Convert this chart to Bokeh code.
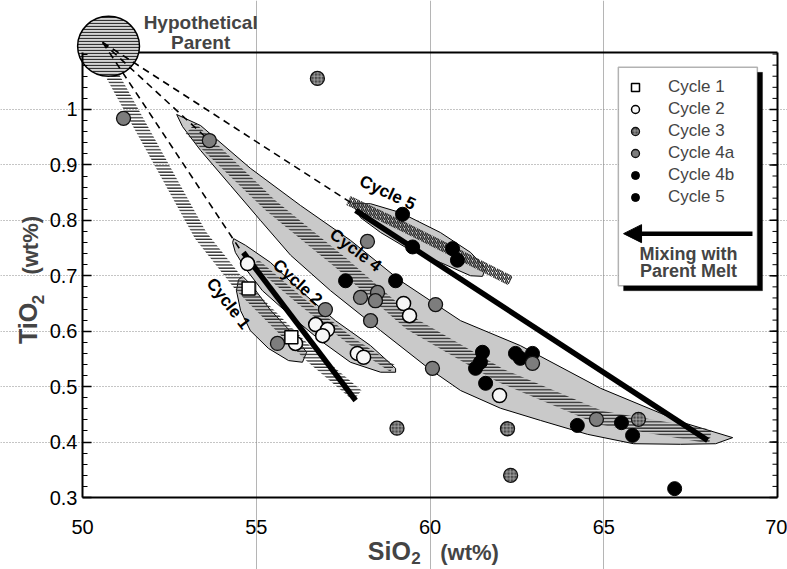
import numpy as np
from bokeh.plotting import figure
from bokeh.models import (FixedTicker, Label, BoxAnnotation, Arrow,
                          NormalHead, Legend, LegendItem, Range1d)
from bokeh.embed import file_html
from bokeh.resources import INLINE

# ------------------------------------------------------------------ data
cycle1_sio2 = [54.78, 56.01]
cycle1_tio2 = [0.677, 0.589]
cycle2_sio2 = [54.75, 56.71, 57.05, 56.91, 56.13, 57.91, 58.09, 59.24, 59.41, 62.00]
cycle2_tio2 = [0.722, 0.612, 0.603, 0.592, 0.578, 0.560, 0.553, 0.650, 0.628, 0.484]
cycle3_sio2 = [56.76, 59.05, 62.23, 62.32, 66.00]
cycle3_tio2 = [1.056, 0.425, 0.424, 0.340, 0.441]
cycle4a_sio2 = [51.18, 53.65, 55.61, 56.99, 58.20, 58.00, 58.49, 58.43, 58.29, 60.16, 60.07, 62.95, 64.79]
cycle4a_tio2 = [0.984, 0.944, 0.578, 0.639, 0.762, 0.661, 0.670, 0.655, 0.619, 0.648, 0.533, 0.542, 0.441]
cycle4b_sio2 = [57.57, 59.01, 61.51, 61.45, 61.31, 61.60, 62.46, 62.60, 62.95, 64.24, 65.51, 65.83, 67.04]
cycle4b_tio2 = [0.691, 0.691, 0.562, 0.544, 0.533, 0.506, 0.560, 0.551, 0.560, 0.430, 0.435, 0.412, 0.316]
cycle5_sio2 = [59.21, 59.50, 60.65, 60.79]
cycle5_tio2 = [0.811, 0.752, 0.749, 0.728]

legend_labels = ["Cycle 1", "Cycle 2", "Cycle 3", "Cycle 4a", "Cycle 4b", "Cycle 5"]

# hypothetical parent melt
parent_sio2 = 50.75
parent_tio2 = 1.114
parent_sio2_spread = 1.78
parent_tio2_spread = 0.108
mix_origin_sio2 = 50.58
mix_origin_tio2 = 1.121

# compositional envelopes
env1_sio2 = [54.61, 54.89, 55.41, 56.04, 56.45, 56.33, 55.93, 55.35, 54.83, 54.55, 54.43, 54.49]
env1_tio2 = [0.699, 0.681, 0.638, 0.596, 0.562, 0.544, 0.547, 0.569, 0.601, 0.637, 0.673, 0.693]
env2_sio2 = [54.35, 54.69, 55.41, 56.27, 57.28, 58.29, 59.01, 59.01, 58.58, 57.71, 56.85, 55.99, 55.18, 54.69, 54.40, 54.32]
env2_tio2 = [0.767, 0.755, 0.724, 0.673, 0.619, 0.574, 0.533, 0.526, 0.526, 0.544, 0.583, 0.628, 0.673, 0.713, 0.742, 0.760]
env4_sio2 = [52.71, 53.40, 54.83, 56.27, 57.71, 59.15, 60.88, 62.60, 64.91, 67.29, 68.71,
             68.22, 67.21, 65.86, 64.53, 63.18, 62.03, 60.88, 59.96, 58.58, 57.14, 55.99, 55.12, 54.26, 53.40, 52.88]
env4_tio2 = [0.991, 0.971, 0.894, 0.827, 0.764, 0.691, 0.619, 0.574, 0.497, 0.435, 0.408,
             0.397, 0.396, 0.397, 0.414, 0.439, 0.461, 0.493, 0.533, 0.601, 0.673, 0.737, 0.800, 0.863, 0.926, 0.969]
env5_sio2 = [57.77, 58.29, 59.15, 60.30, 61.17, 61.60, 61.51, 61.17, 60.30, 59.44, 58.58, 58.00]
env5_tio2 = [0.830, 0.830, 0.814, 0.778, 0.742, 0.713, 0.699, 0.700, 0.724, 0.746, 0.778, 0.805]

# fractionation trends (hatched bands, centre lines)
bandA_sio2 = [50.86, 53.40, 54.55, 55.55, 56.56, 57.91]
bandA_tio2 = [1.061, 0.773, 0.682, 0.619, 0.556, 0.484]
band2_sio2 = [54.98, 56.27, 57.71, 58.92]
band2_tio2 = [0.724, 0.655, 0.583, 0.533]
band4_sio2 = [53.11, 55.41, 57.42, 59.44, 62.03, 64.91, 68.07]
band4_tio2 = [0.966, 0.827, 0.724, 0.614, 0.520, 0.444, 0.410]
band5_sio2 = [57.65, 59.15, 60.59, 62.32]
band5_tio2 = [0.836, 0.791, 0.746, 0.691]

# mixing trends (thick lines) and mixing lines from the parent (dashed, end points)
mix12_sio2 = [54.63, 57.86]
mix12_tio2 = [0.742, 0.475]
mix45_sio2 = [57.86, 67.99]
mix45_tio2 = [0.818, 0.403]
dash_end_sio2 = [54.55, 53.65, 57.77]
dash_end_tio2 = [0.746, 0.944, 0.830]

# envelope labels
cyc_lab_text = ["Cycle 1", "Cycle 2", "Cycle 4", "Cycle 5"]
cyc_lab_sio2 = [54.20, 56.19, 57.86, 58.78]
cyc_lab_tio2 = [0.650, 0.688, 0.746, 0.850]
cyc_lab_angle_deg = [-52, -42, -37, -25]

x_ticks = [50, 55, 60, 65, 70]
y_ticks = [0.3, 0.4, 0.5, 0.6, 0.7, 0.8, 0.9, 1.0]
y_minor = [round(0.30 + 0.02 * i, 2) for i in range(1, 41)]
x_grid = [55, 60, 65]
y_grid = [0.4, 0.5, 0.6, 0.7, 0.8, 0.9, 1.0]
x_lo, x_hi = 50, 70
y_lo, y_top_frame = 0.3, 1.103

# ------------------------------------------------------------------ layout
W, H = 787, 569
AX_LEFT_PX, AX_BOTTOM_PX = 82, 497     # pixel position of (50, 0.3)
PX_X = 34.75     # px per wt% SiO2
PX_Y = 554.3     # px per wt% TiO2
x_start = x_lo - AX_LEFT_PX / PX_X
x_end = x_lo + (W - AX_LEFT_PX) / PX_X
y_start = y_lo - (H - AX_BOTTOM_PX) / PX_Y
y_end = y_lo + AX_BOTTOM_PX / PX_Y

FONT = "Liberation Sans"

p = figure(width=W, height=H, output_backend="svg", toolbar_location=None,
           x_range=Range1d(x_start, x_end), y_range=Range1d(y_start, y_end),
           min_border_left=0, min_border_right=0, min_border_top=0, min_border_bottom=0,
           background_fill_color="white", border_fill_color="white",
           outline_line_color=None)

# axes (drawn at fixed data locations)
xa = p.xaxis[0]
xa.fixed_location = y_lo
xa.ticker = FixedTicker(ticks=x_ticks)
xa.bounds = (x_lo, x_hi)
xa.axis_line_width = 2
xa.axis_line_color = "black"
xa.major_tick_line_color = None
xa.minor_tick_line_color = None
xa.major_label_text_font = FONT
xa.major_label_text_font_size = "20px"
xa.major_label_text_color = "black"
xa.major_label_standoff = 16

ya = p.yaxis[0]
ya.fixed_location = x_lo
ya.ticker = FixedTicker(ticks=y_ticks, minor_ticks=y_minor)
ya.bounds = (y_lo, y_top_frame)
ya.axis_line_width = 2
ya.major_tick_in = 9
ya.major_tick_out = 0
ya.minor_tick_in = 5
ya.minor_tick_out = 0
ya.major_tick_line_width = 1.5
ya.major_label_text_font = FONT
ya.major_label_text_font_size = "20px"
ya.major_label_text_color = "black"
ya.major_label_standoff = 5

p.xgrid.ticker = FixedTicker(ticks=x_grid)
p.xgrid.bounds = (y_lo, y_top_frame)
p.xgrid.grid_line_color = "#b5b5b5"
p.xgrid.grid_line_width = 1
p.ygrid.ticker = FixedTicker(ticks=y_grid)
p.ygrid.bounds = (x_lo, x_hi)
p.ygrid.grid_line_color = "#8a8a8a"
p.ygrid.grid_line_dash = "1 2"
p.ygrid.grid_line_width = 1

# top and right frame lines, right-hand inward ticks
p.segment(x0=[x_lo, x_hi], y0=[y_top_frame, y_lo], x1=[x_hi, x_hi], y1=[y_top_frame, y_top_frame],
          line_color="black", line_width=2)
maj_len, min_len = 8 / PX_X, 5 / PX_X
p.segment(x0=[x_hi] * len(y_ticks), y0=y_ticks, x1=[x_hi - maj_len] * len(y_ticks), y1=y_ticks,
          line_color="black", line_width=1.5)
p.segment(x0=[x_hi] * len(y_minor), y0=y_minor, x1=[x_hi - min_len] * len(y_minor), y1=y_minor,
          line_color="black", line_width=1)


def band(xs, ys, half_px):
    px = np.asarray(xs) * PX_X
    py = np.asarray(ys) * PX_Y
    dx = np.gradient(px)
    dy = np.gradient(py)
    n = np.hypot(dx, dy)
    nx, ny = -dy / n, dx / n
    bx = np.concatenate([px + nx * half_px, (px - nx * half_px)[::-1]]) / PX_X
    by = np.concatenate([py + ny * half_px, (py - ny * half_px)[::-1]]) / PX_Y
    return list(bx), list(by)


ENV_FILL = "#c9c9c9"
HATCH = dict(fill_color=None, line_color=None, hatch_pattern="horizontal_line",
             hatch_color="#2a2a2a", hatch_scale=3.2, hatch_weight=1.4)

# envelopes and trends
p.patch(env4_sio2, env4_tio2, fill_color=ENV_FILL, line_color="black", line_width=1)
bx, by = band(band4_sio2, band4_tio2, 7)
p.patch(bx, by, **HATCH)
p.patch(env5_sio2, env5_tio2, fill_color=ENV_FILL, line_color="black", line_width=1)
bx, by = band(band5_sio2, band5_tio2, 5)
p.patch(bx, by, fill_color=None, line_color=None, hatch_pattern="right_diagonal_line",
        hatch_color="#2a2a2a", hatch_scale=4, hatch_weight=1.4)
p.patch(env2_sio2, env2_tio2, fill_color=ENV_FILL, line_color="black", line_width=1)
bx, by = band(band2_sio2, band2_tio2, 4)
p.patch(bx, by, **HATCH)
p.patch(env1_sio2, env1_tio2, fill_color=ENV_FILL, line_color="black", line_width=1)
bx, by = band(bandA_sio2, bandA_tio2, 6.5)
p.patch(bx, by, **HATCH)

# parent melt
p.ellipse(x=[parent_sio2], y=[parent_tio2], width=parent_sio2_spread, height=parent_tio2_spread,
          fill_color="#d4d4d4", line_color="black", line_width=1.5,
          hatch_pattern="horizontal_line", hatch_color="#333333", hatch_scale=3, hatch_weight=1.2)

# dashed mixing lines from the parent
p.segment(x0=[mix_origin_sio2] * len(dash_end_sio2), y0=[mix_origin_tio2] * len(dash_end_tio2),
          x1=dash_end_sio2, y1=dash_end_tio2, line_color="black", line_width=1.6, line_dash="7 5")

# thick mixing trends
p.line(mix12_sio2, mix12_tio2, line_color="black", line_width=5.5)
p.line(mix45_sio2, mix45_tio2, line_color="black", line_width=5.5)

# points
r4b = p.scatter(cycle4b_sio2, cycle4b_tio2, marker="circle", size=14,
                fill_color="black", line_color="black")
r5 = p.scatter(cycle5_sio2, cycle5_tio2, marker="circle", size=14,
               fill_color="black", line_color="black")
r4a = p.scatter(cycle4a_sio2, cycle4a_tio2, marker="circle", size=14,
                fill_color="#7d7d7d", line_color="#111111", line_width=1.3)
r3 = p.scatter(cycle3_sio2, cycle3_tio2, marker="circle", size=14,
               fill_color="#4d4d4d", line_color="#111111", line_width=1.3,
               hatch_pattern="cross", hatch_color="#b0b0b0", hatch_scale=3.5, hatch_weight=0.8)
r2 = p.scatter(cycle2_sio2, cycle2_tio2, marker="circle", size=14,
               fill_color="#f7f7f7", line_color="black", line_width=1.5)
r1 = p.scatter(cycle1_sio2, cycle1_tio2, marker="square", size=13,
               fill_color="white", line_color="black", line_width=1.5)

# envelope labels
for t, xv, yv, a in zip(cyc_lab_text, cyc_lab_sio2, cyc_lab_tio2, cyc_lab_angle_deg):
    p.add_layout(Label(x=xv, y=yv, text=t, angle=np.deg2rad(a), text_align="center",
                       text_baseline="middle", text_font=FONT, text_font_size="17px",
                       text_font_style="bold", text_color="black"))

# parent label
for t, yv in (("Hypothetical", 1.157), ("Parent", 1.121)):
    p.add_layout(Label(x=53.40, y=yv, text=t, text_align="center", text_baseline="middle",
                       text_font=FONT, text_font_size="19px", text_font_style="bold"))


# axis titles (pieces for the subscripts)
def lab(x, y, t, size, angle=0.0):
    p.add_layout(Label(x=x, y=y, text=t, angle=angle, text_align="center", text_baseline="middle",
                       text_font=FONT, text_font_size=size, text_font_style="bold"))


lab(48.42, 0.614, "TiO", "25px", np.pi / 2)
lab(48.73, 0.657, "2", "17px", np.pi / 2)
lab(48.50, 0.755, "(wt%)", "22px", np.pi / 2)
lab(58.83, 0.2026, "SiO", "25px")
lab(59.60, 0.1905, "2", "17px")
lab(61.14, 0.2008, "(wt%)", "22px")

# legend box with shadow
p.add_layout(BoxAnnotation(left=65.57, right=69.57, top=1.067, bottom=0.673,
                           fill_color="black", fill_alpha=1, line_color="black"))
p.add_layout(BoxAnnotation(left=65.42, right=69.42, top=1.076, bottom=0.682,
                           fill_color="white", fill_alpha=1, line_color="black", line_width=1.5))

legend = Legend(items=[LegendItem(label=legend_labels[0], renderers=[r1]),
                       LegendItem(label=legend_labels[1], renderers=[r2]),
                       LegendItem(label=legend_labels[2], renderers=[r3]),
                       LegendItem(label=legend_labels[3], renderers=[r4a]),
                       LegendItem(label=legend_labels[4], renderers=[r4b]),
                       LegendItem(label=legend_labels[5], renderers=[r5])],
                location=(625, H - 207), padding=0, margin=0, spacing=2,
                glyph_width=20, glyph_height=20, label_height=20, label_standoff=23,
                border_line_color=None, background_fill_alpha=0,
                label_text_font=FONT, label_text_font_size="17px")
p.add_layout(legend)

p.add_layout(Arrow(end=NormalHead(size=18, fill_color="black", line_color="black"),
                   x_start=69.28, y_start=0.776, x_end=65.57, y_end=0.776,
                   line_width=4.5, line_color="black"))
for t, yv in (("Mixing with", 0.740), ("Parent Melt", 0.709)):
    p.add_layout(Label(x=67.44, y=yv, text=t, text_align="center", text_baseline="middle",
                       text_font=FONT, text_font_size="18px", text_font_style="bold"))

open("out.html", "w").write(file_html(p, INLINE))
